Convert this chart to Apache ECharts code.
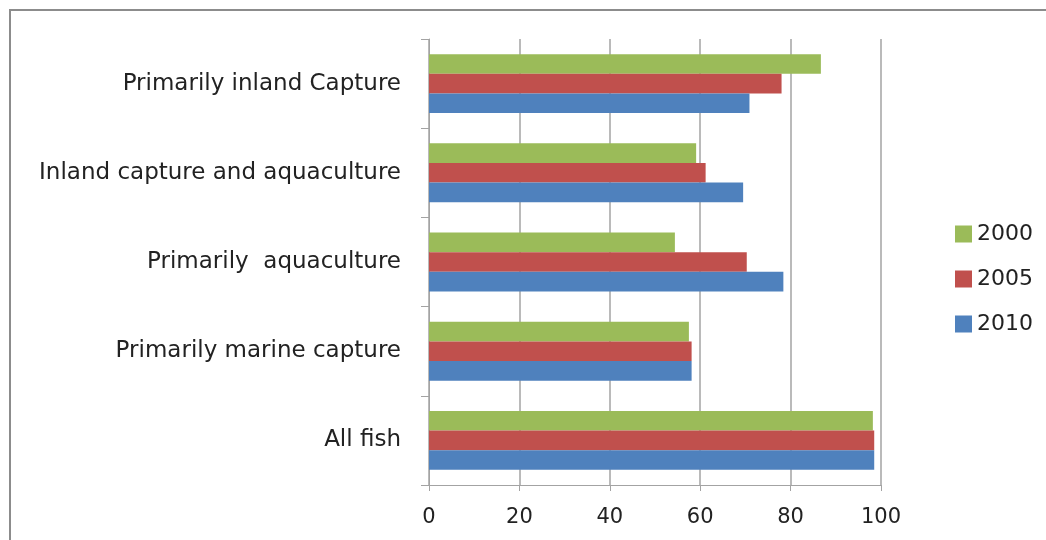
<!DOCTYPE html>
<html>
<head>
<meta charset="utf-8">
<title>Fish production shares</title>
<script src="https://cdn.jsdelivr.net/npm/echarts@6/dist/echarts.min.js"></script>
<style>
  html, body { margin: 0; padding: 0; background: #fff; }
  #chart { width: 1046px; height: 540px; }
</style>
</head>
<body>
<div id="chart"></div>
<script>
// Categories listed bottom to top along the vertical axis
const categories = [
  'All fish',
  'Primarily marine capture',
  'Primarily  aquaculture',
  'Inland capture and aquaculture',
  'Primarily inland Capture'
];
const years = ['2000', '2005', '2010'];
const values2000 = [98.2, 57.5, 54.4, 59.1, 86.7];
const values2005 = [98.5, 58.1, 70.3, 61.2, 78.0];
const values2010 = [98.5, 58.1, 78.4, 69.5, 70.9];
const xTicks = { min: 0, max: 100, interval: 20 };

const colors = { '2000': '#9BBB59', '2005': '#C0504D', '2010': '#4F81BD' };
const FONT = 'DejaVu Sans';
const TEXT = '#222';
const GRID = '#a3a3a3';

const chart = echarts.init(document.getElementById('chart'), null, { renderer: 'canvas' });

function bar(name, data) {
  return {
    name: name,
    type: 'bar',
    data: data,
    barGap: '0%',
    barCategoryGap: '34%',
    itemStyle: { color: colors[name] },
    emphasis: { disabled: true }
  };
}

chart.setOption({
  animation: false,
  backgroundColor: '#fff',
  textStyle: { fontFamily: FONT },
  graphic: [{
    // chart frame (top and left edges)
    type: 'polyline',
    shape: { points: [[10, 545], [10, 10], [1050, 10]] },
    style: { stroke: '#8c8c8c', lineWidth: 2, fill: null },
    silent: true
  }],
  grid: { left: 429, right: 165, top: 39, bottom: 55, containLabel: false },
  legend: {
    orient: 'vertical',
    left: 950,
    top: 218,
    itemWidth: 17,
    itemHeight: 17,
    itemGap: 23,
    itemTextGap: 5,
    icon: 'rect',
    data: years,
    textStyle: { fontFamily: FONT, fontSize: 22, color: TEXT },
    selectedMode: false
  },
  xAxis: {
    type: 'value',
    min: xTicks.min,
    max: xTicks.max,
    interval: xTicks.interval,
    axisLine: { show: true, lineStyle: { color: GRID, width: 1 } },
    axisTick: { show: true, length: 6, lineStyle: { color: GRID } },
    splitLine: { show: true, lineStyle: { color: GRID, width: 1.5 } },
    axisLabel: { fontFamily: FONT, fontSize: 21, color: TEXT, margin: 22 }
  },
  yAxis: {
    type: 'category',
    data: categories,
    axisLine: { show: true, lineStyle: { color: GRID, width: 1 } },
    axisTick: { show: true, length: 8, lineStyle: { color: GRID } },
    axisLabel: { fontFamily: FONT, fontSize: 23, color: TEXT, margin: 28 }
  },
  series: [
    bar('2000', values2000),
    bar('2005', values2005),
    bar('2010', values2010)
  ]
});
</script>
</body>
</html>
